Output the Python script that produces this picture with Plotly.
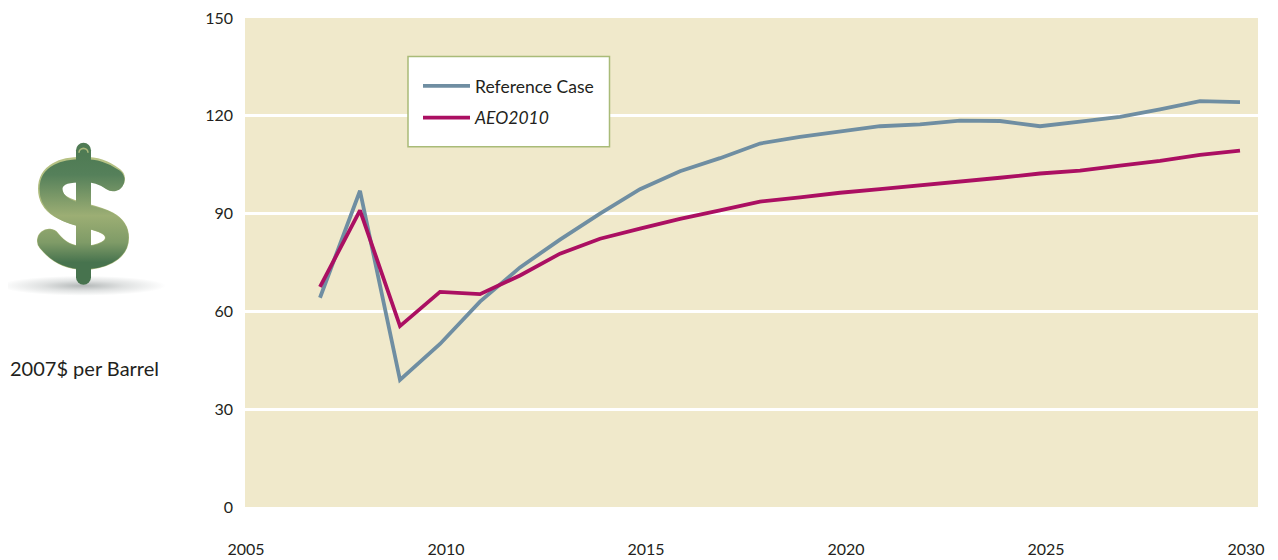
import base64
import plotly.graph_objects as go

years = list(range(2007, 2031))
reference_case = [64.2, 97, 39, 50, 63, 73.5, 82, 90, 97.5, 103, 107, 111.5, 113.5, 115.2, 116.8, 117.4,
                  118.5, 118.4, 116.8, 118.2, 119.7, 122, 124.5, 124.2]
aeo2010 = [67.5, 91, 55.5, 66, 65.3, 71, 77.7, 82.3, 85.4, 88.4, 91, 93.7, 95, 96.4, 97.5, 98.6,
           99.8, 101, 102.3, 103.2, 104.7, 106.2, 108, 109.3]
x_tick_labels = ["2005", "2010", "2015", "2020", "2025", "2030"]
x_tick_years = [2005, 2010, 2015, 2020, 2025, 2030]
y_ticks = [0, 30, 60, 90, 120, 150]

OFF = 8  # page body margin
W, H = 1278 - OFF, 560 - OFF
L, R, T, B = 245, 1258, 18, 507.5
FONT = "Lato, Open Sans, sans-serif"
TXT = "#231f20"

svg = """<svg xmlns="http://www.w3.org/2000/svg" width="170" height="165" viewBox="0 135 170 165">
<defs>
<linearGradient id="g" gradientUnits="userSpaceOnUse" x1="0" y1="155" x2="0" y2="272">
<stop offset="0" stop-color="#4f7b54"/><stop offset="0.17" stop-color="#55805a"/>
<stop offset="0.52" stop-color="#9cae74"/><stop offset="0.75" stop-color="#7f9b67"/>
<stop offset="0.92" stop-color="#47734e"/><stop offset="1" stop-color="#47734e"/></linearGradient>
<linearGradient id="h" gradientUnits="userSpaceOnUse" x1="0" y1="150" x2="0" y2="215">
<stop offset="0" stop-color="#b9c486"/><stop offset="1" stop-color="#a9b87a"/></linearGradient>
<radialGradient id="s"><stop offset="0" stop-color="#b4b8b8"/><stop offset="0.5" stop-color="#e0e2e2"/>
<stop offset="1" stop-color="#ffffff"/></radialGradient>
</defs>
<ellipse cx="83" cy="286" rx="83" ry="10" fill="url(#s)"/>
<path d="M113 179 C103 171 95 169 83 169 C62 169 50 175 50 189 C50 205 66 211 83 215 C102 220 117 224 117 238 C117 251 101 258 83 258 C68 258 58 252 49 241"
 fill="none" stroke="url(#h)" stroke-width="24" stroke-linecap="round"/>
<path d="M113 180 C103 173 95 171 83 171 C63 171 51 176 51 189 C51 205 66 212 83 216 C102 220 117 224 117 238 C117 251 101 258 83 258 C68 258 58 252 49 241"
 fill="none" stroke="url(#g)" stroke-width="23" stroke-linecap="round"/>
<rect x="76" y="143" width="15" height="142" rx="7.5" fill="url(#g)"/>
<path d="M79 153 a4.5 4.5 0 0 1 9 0" fill="none" stroke="#a9b87a" stroke-width="1.6"/>
</svg>"""
icon = "data:image/svg+xml;base64," + base64.b64encode(svg.encode()).decode()


def px(x):
    return (x - L) / (R - L)


def py(y):
    return (B - y) / (B - T)


fig = go.Figure()
fig.add_trace(go.Scatter(x=years, y=reference_case, mode="lines", name="Reference Case", legendgroup="a",
                         line=dict(color="#6f8ea2", width=3.8)))
fig.add_trace(go.Scatter(x=years, y=aeo2010, mode="lines", name="<i>AEO2010</i>", legendgroup="b",
                         line=dict(color="#ab0f62", width=3.8)))

fig.update_layout(
    width=W, height=H, autosize=False,
    margin=dict(l=L - OFF, r=W - (R - OFF), t=T - OFF, b=H - (B - OFF), pad=0, autoexpand=False),
    paper_bgcolor="white", plot_bgcolor="#f0e9cb",
    font=dict(family=FONT, size=16, color=TXT),
    xaxis=dict(range=[2005.125, 2030.45], tickmode="array",
               tickvals=[y + 0.15 for y in x_tick_years], ticktext=x_tick_labels, automargin=False,
               showgrid=False, zeroline=False, showline=False, ticks="", ticklabelstandoff=31,
               tickfont=dict(size=16)),
    yaxis=dict(range=[0, 150], tickmode="array", tickvals=y_ticks, showgrid=True, gridcolor="white",
               gridwidth=2.6, zeroline=False, showline=False, ticks="", ticklabelstandoff=11, automargin=False,
               ticklabeloverflow="allow", tickfont=dict(size=16)),
    legend=dict(x=px(418), y=py(68), xanchor="left", yanchor="top", bgcolor="rgba(0,0,0,0)",
                borderwidth=0, traceorder="grouped", tracegroupgap=6, itemwidth=47,
                font=dict(size=17.5, family=FONT, color=TXT)),
    shapes=[dict(type="rect", xref="paper", yref="paper", x0=px(408), x1=px(609.5), y0=py(147), y1=py(56.5),
                 fillcolor="white", line=dict(color="#a9bb78", width=1.5), layer="above")],
    annotations=[dict(text="2007$ per Barrel", xref="paper", yref="paper", x=px(84), y=py(368.5),
                      xanchor="center", yanchor="middle", showarrow=False, font=dict(size=20, color=TXT, family=FONT))],
    images=[dict(source=icon, xref="paper", yref="paper", x=px(0), y=py(135), sizex=170 / (R - L), sizey=165 / (B - T),
                 xanchor="left", yanchor="top", sizing="stretch", layer="above")],
)
fig.write_html("out.html")
